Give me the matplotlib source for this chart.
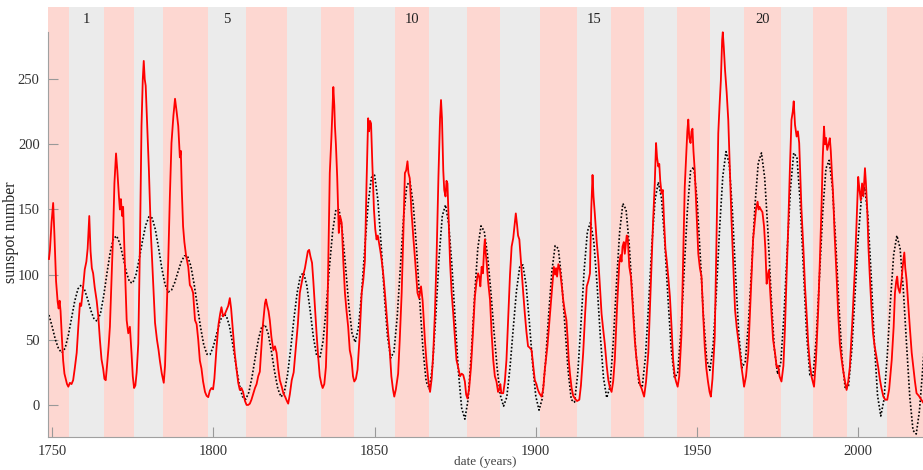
import matplotlib
matplotlib.use("Agg")
import matplotlib.pyplot as plt

# solar cycle minima (band edges)
cycle_edges = [1755.2, 1766.2, 1775.4, 1784.4, 1798.4, 1810.1, 1822.9, 1833.3,
               1843.5, 1856.3, 1866.9, 1878.7, 1888.9, 1901.3, 1912.8, 1923.3,
               1933.5, 1943.9, 1954.0, 1964.6, 1976.2, 1986.0, 1996.4, 2008.8]
cycle_labels = [1, 5, 10, 15, 20]

# smoothed sunspot number (red)
ssn_t = [1749.0, 1749.3, 1749.8, 1750.3, 1750.7, 1751.2, 1751.7, 1752.0, 1752.3, 1752.6,
         1753.0, 1753.4, 1753.8, 1754.2, 1754.6, 1755.0, 1755.5, 1756.0, 1756.5, 1757.0,
         1757.6, 1758.1, 1758.6, 1759.0, 1759.5, 1760.1, 1760.6, 1761.0, 1761.5, 1761.9,
         1762.3, 1762.7, 1763.2, 1763.8, 1764.3, 1764.8, 1765.3, 1765.8, 1766.2, 1766.6,
         1767.0, 1767.5, 1767.9, 1768.4, 1768.9, 1769.3, 1769.8, 1770.2, 1770.7, 1771.0,
         1771.3, 1771.7, 1772.0, 1772.3, 1772.7, 1773.1, 1773.6, 1774.1, 1774.6, 1775.0,
         1775.4, 1775.8, 1776.2, 1776.7, 1777.2, 1777.7, 1778.1, 1778.4, 1778.7, 1779.0,
         1779.3, 1780.0, 1780.6, 1781.2, 1781.9, 1782.5, 1783.0, 1783.4, 1784.0, 1784.6,
         1785.0, 1785.5, 1786.0, 1786.5, 1787.0, 1787.6, 1788.1, 1788.6, 1789.1, 1789.4,
         1789.6, 1789.9, 1790.2, 1790.6, 1791.0, 1791.5, 1792.2, 1792.7, 1793.2, 1793.7,
         1794.3, 1794.8, 1795.3, 1795.8, 1796.3, 1796.8, 1797.4, 1797.9, 1798.4, 1798.9,
         1799.4, 1799.9, 1800.3, 1801.0, 1801.6, 1802.1, 1802.5, 1803.0, 1803.6, 1804.1,
         1804.6, 1805.1, 1805.5, 1806.1, 1806.6, 1807.2, 1807.7, 1808.2, 1808.7, 1809.2,
         1809.8, 1810.3, 1810.8, 1811.3, 1811.8, 1812.3, 1812.9, 1813.4, 1813.9, 1814.4,
         1814.9, 1815.3, 1815.7, 1816.0, 1816.3, 1816.7, 1817.1, 1817.5, 1818.0, 1818.6,
         1819.1, 1819.6, 1820.1, 1820.6, 1821.2, 1821.7, 1822.3, 1822.8, 1823.2, 1823.7,
         1824.3, 1824.9, 1825.6, 1826.2, 1826.8, 1827.4, 1827.9, 1828.4, 1828.9, 1829.3,
         1829.7, 1830.1, 1830.6, 1831.0, 1831.5, 1832.0, 1832.5, 1833.0, 1833.5, 1833.9,
         1834.4, 1834.9, 1835.3, 1835.7, 1836.1, 1836.6, 1837.0, 1837.2, 1837.5, 1837.7,
         1838.0, 1838.4, 1838.9, 1839.3, 1839.8, 1840.3, 1840.8, 1841.3, 1841.8, 1842.3,
         1842.8, 1843.3, 1843.7, 1844.2, 1844.7, 1845.3, 1846.0, 1846.5, 1847.0, 1847.5,
         1848.0, 1848.3, 1848.6, 1848.9, 1849.3, 1849.8, 1850.2, 1850.6, 1851.0, 1851.4,
         1851.8, 1852.2, 1852.7, 1853.2, 1853.7, 1854.2, 1854.7, 1855.2, 1855.7, 1856.1,
         1856.6, 1857.3, 1857.8, 1858.4, 1858.9, 1859.4, 1859.8, 1860.2, 1860.5, 1860.9,
         1861.4, 1862.0, 1862.6, 1863.3, 1863.8, 1864.4, 1864.9, 1865.6, 1866.1, 1866.7,
         1867.2, 1867.7, 1868.2, 1868.7, 1869.2, 1869.8, 1870.3, 1870.6, 1870.9, 1871.3,
         1871.6, 1872.0, 1872.3, 1872.6, 1873.0, 1873.4, 1873.9, 1874.4, 1874.9, 1875.4,
         1876.0, 1876.5, 1877.0, 1877.5, 1878.0, 1878.4, 1878.8, 1879.3, 1879.9, 1880.5,
         1881.1, 1881.6, 1882.1, 1882.5, 1882.8, 1883.2, 1883.6, 1884.0, 1884.2, 1884.4,
         1884.7, 1885.2, 1885.8, 1886.3, 1886.8, 1887.3, 1887.8, 1888.3, 1888.7, 1889.0,
         1889.3, 1889.9, 1890.4, 1890.9, 1891.5, 1892.0, 1892.5, 1893.0, 1893.5, 1893.8,
         1894.2, 1894.5, 1894.9, 1895.5, 1896.1, 1896.6, 1897.1, 1897.6, 1898.1, 1898.7,
         1899.2, 1899.7, 1900.2, 1900.6, 1901.1, 1901.8, 1902.3, 1902.8, 1903.6, 1904.4,
         1905.0, 1905.6, 1906.0, 1906.3, 1906.6, 1907.0, 1907.5, 1907.9, 1908.2, 1908.5,
         1909.0, 1909.5, 1909.9, 1910.2, 1910.6, 1911.1, 1911.6, 1912.1, 1912.8, 1913.5,
         1914.0, 1914.7, 1915.3, 1915.8, 1916.3, 1916.8, 1917.2, 1917.6, 1917.9, 1918.3,
         1918.9, 1919.4, 1919.9, 1920.4, 1920.9, 1921.4, 1922.0, 1922.5, 1923.0, 1923.5,
         1924.0, 1924.5, 1925.2, 1925.9, 1926.3, 1926.6, 1926.9, 1927.3, 1927.6, 1928.2,
         1928.5, 1929.0, 1929.5, 1930.1, 1930.7, 1931.2, 1931.8, 1932.3, 1932.9, 1933.6,
         1934.2, 1934.9, 1935.7, 1936.4, 1936.9, 1937.3, 1937.6, 1938.0, 1938.3, 1938.6,
         1939.0, 1939.4, 1939.8, 1940.2, 1940.6, 1941.1, 1941.6, 1942.1, 1942.6, 1943.1,
         1943.5, 1944.0, 1944.5, 1945.2, 1945.7, 1946.2, 1946.7, 1947.0, 1947.3, 1947.6,
         1948.0, 1948.3, 1948.6, 1948.9, 1949.3, 1949.8, 1950.4, 1950.9, 1951.4, 1951.9,
         1952.4, 1952.9, 1953.4, 1953.9, 1954.3, 1954.8, 1955.5, 1956.0, 1956.6, 1957.0,
         1957.4, 1957.8, 1958.0, 1958.3, 1958.7, 1959.2, 1959.7, 1960.2, 1960.7, 1961.2,
         1961.8, 1962.3, 1962.8, 1963.3, 1963.8, 1964.2, 1964.6, 1965.2, 1965.9, 1966.6,
         1967.4, 1967.9, 1968.3, 1968.8, 1969.1, 1969.4, 1969.8, 1970.3, 1970.8, 1971.2,
         1971.6, 1972.0, 1972.3, 1972.6, 1973.1, 1973.6, 1974.2, 1974.7, 1975.2, 1975.6,
         1976.2, 1976.8, 1977.3, 1977.8, 1978.3, 1978.8, 1979.3, 1979.7, 1980.0, 1980.4,
         1980.9, 1981.3, 1981.7, 1982.0, 1982.4, 1983.0, 1983.5, 1984.0, 1984.5, 1985.0,
         1985.5, 1986.3, 1986.9, 1987.6, 1988.1, 1988.6, 1989.0, 1989.4, 1989.7, 1990.0,
         1990.4, 1990.8, 1991.2, 1991.5, 1991.8, 1992.2, 1992.7, 1993.3, 1993.8, 1994.3,
         1994.8, 1995.3, 1995.9, 1996.4, 1996.9, 1997.4, 1998.2, 1999.0, 1999.5, 2000.0,
         2000.4, 2000.8, 2001.2, 2001.6, 2002.1, 2002.4, 2002.8, 2003.2, 2003.6, 2004.1,
         2004.6, 2005.1, 2005.6, 2006.2, 2006.7, 2007.2, 2007.8, 2008.4, 2009.0, 2009.6,
         2010.4, 2011.0, 2011.4, 2011.8, 2012.1, 2012.4, 2012.9, 2013.4, 2013.8, 2014.3,
         2014.6, 2015.0, 2015.5, 2016.0, 2016.6, 2017.1, 2017.6, 2018.1, 2018.8, 2019.6,
         2020.1]
ssn_v = [112, 119, 140, 155, 130, 95, 79, 74, 80, 72,
         52, 34, 24, 20, 16, 14, 17, 16, 19, 28,
         40, 60, 78, 76, 88, 104, 110, 120, 145, 118,
         105, 101, 90, 80, 68, 50, 35, 28, 20, 19,
         30, 45, 60, 95, 132, 170, 193, 180, 160, 150,
         158, 145, 152, 127, 95, 65, 55, 60, 40, 22,
         13, 15, 25, 47, 120, 214, 250, 264, 250, 245,
         226, 180, 132, 100, 63, 50, 42, 34, 24, 17,
         30, 70, 111, 160, 201, 222, 235, 225, 214, 200,
         190, 195, 165, 137, 125, 115, 106, 92, 90, 86,
         65, 62, 50, 34, 28, 18, 10, 7, 6, 11,
         13, 12, 20, 45, 62, 70, 75, 68, 70, 73,
         76, 82, 74, 55, 40, 27, 17, 11.5, 13, 10,
         3, 0, 0, 1, 4, 8, 13, 16, 22, 25.5,
         45, 60, 70, 78, 81, 76, 72, 65, 52, 42,
         45, 40, 28, 19, 14, 9, 6, 3, 1, 8,
         19, 25, 45, 62, 86, 94, 100, 105, 112, 118,
         119, 114, 109, 95, 75, 55, 37, 22, 16, 13,
         16, 29, 60, 120, 178, 205, 232, 244, 230, 214,
         200, 175, 132, 145, 139.7, 110, 86, 72, 60, 42,
         36, 22, 18, 20, 27, 50, 86, 96, 111, 170,
         220, 210, 218, 216, 185, 150, 135, 127, 130, 124,
         118, 111, 100, 86, 70, 55, 42, 22, 12, 6.4,
         12, 24, 50, 86, 130, 178, 180, 187, 178, 174,
         150, 129, 110, 86, 82, 91, 80, 50, 33, 18,
         10, 20, 40, 70, 111, 175, 220, 234, 220, 180,
         165, 160, 172, 170, 140, 110, 86, 70, 52, 34.5,
         28, 22, 24, 23, 18, 8, 5, 12, 29, 55,
         83, 94, 101, 98, 91, 106, 101, 121, 127, 118,
         111, 95, 80.6, 55, 34.5, 22, 18, 10, 12, 16,
         9, 9, 18, 34.5, 70, 100, 121.5, 128, 140, 147,
         138, 130, 127, 106, 86, 70, 56, 45, 44, 42,
         30, 19, 16, 12, 9, 6.4, 12, 27, 45, 70,
         88, 106, 100, 105, 98.5, 108, 103.6, 95, 88, 80.6,
         72, 65, 50, 35, 24, 13, 7, 5, 3, 4,
         15, 40, 70, 91, 95, 101, 150, 176.5, 160, 147,
         125, 111, 90, 70, 58, 47, 30, 19, 13, 10,
         18, 34.5, 75, 109, 115, 110, 121.5, 125, 116, 130,
         129, 106, 98.5, 75, 50, 36, 24, 16, 12, 6.4,
         18, 40, 95, 142, 170, 201, 190, 183, 185, 172,
         162.5, 165, 140, 120, 111, 98, 83, 60, 34.5, 22,
         18, 14, 22, 55, 110, 167.5, 195, 210, 219, 205,
         201, 210, 212, 195, 180, 150, 116, 105, 98.5, 70,
         45, 28, 18, 10, 6.4, 20, 52, 120, 208.5, 230,
         249, 280, 286, 275, 257, 240, 218.7, 180, 142, 110,
         73, 60, 50, 40, 29, 22, 14, 22, 40, 80,
         127, 140, 150, 156, 150, 152, 150, 148, 137, 120,
         93, 100, 103.6, 91, 70, 50, 40, 29, 30, 22,
         18, 30, 60, 100, 137, 180, 218.7, 225, 233, 215,
         206, 210, 201, 180, 150, 120, 91, 70, 47, 32,
         22, 14, 35, 73, 110, 150, 190, 213.6, 200, 205,
         195.7, 200, 204.7, 195, 180, 162.5, 130, 98.5, 70, 47,
         36, 27, 18, 11.5, 18, 29, 65, 106, 140, 175,
         165, 157, 170, 160, 181.7, 170, 150, 120, 98.5, 75,
         55, 45, 38, 29, 20, 13, 6.4, 4, 4, 12,
         34.5, 60, 86, 95, 98.5, 90, 86, 95, 106, 117,
         105, 96, 78, 60, 40, 29, 18, 9, 7, 4,
         2]

# model curve (black dotted), yearly values
model_t = list(range(1749, 2022))
model_v = [69, 60, 50, 43, 40, 43.5, 53.4, 66.7, 79.8, 89.1,
           92, 88.7, 81.1, 72.4, 65.8, 64.2, 70.5, 84.1, 101.4, 117.2,
           127.7, 129.7, 123.9, 113.3, 101.9, 94.3, 93.6, 100.1, 112.1, 125.9,
           137.9, 144.4, 143.5, 134.6, 120.5, 104.9, 92.5, 86.7, 88.1, 93.9,
           102, 109.7, 114.4, 114.1, 106.7, 93.1, 76.5, 59.9, 46.3, 38.9,
           38.8, 45, 54.5, 64, 69.5, 68.6, 60.4, 46.6, 30.5, 16,
           6.5, 4.2, 9.7, 21.7, 36.8, 50.7, 60, 61.6, 54.7, 41.1,
           25.3, 12.3, 6.2, 9.6, 23.3, 43.6, 66.6, 86.4, 99.3, 101.4,
           91.4, 72.7, 52.3, 38.2, 35.8, 48.8, 74.8, 106.1, 133.4, 149.9,
           149.8, 133.1, 106, 76.5, 55, 48.1, 59.6, 86.7, 122, 154.3,
           174.5, 176.3, 157.7, 124.1, 85.2, 52.7, 36, 40.8, 67.3, 105.9,
           144.2, 168.7, 171.4, 153.6, 120.5, 80.1, 42.8, 18, 12.1, 30.9,
           69.4, 113.1, 145.2, 153.5, 138.8, 106.3, 65.1, 25.5, -2.3, -10.9,
           4.2, 39.5, 83, 120, 137.4, 133.4, 115.6, 88.7, 57.4, 28.5,
           7.5, -1, 6, 28.7, 58.6, 87.4, 105.8, 107.5, 91.8, 63.8,
           31.9, 6.7, -4, 4.8, 32.5, 69.5, 102.9, 122.2, 120, 96.5,
           62, 27, 4.1, 2.1, 23.7, 62, 103.4, 133, 140.5, 125.2,
           92.6, 53.4, 20.8, 5.5, 13.9, 47, 92.1, 132.6, 154.6, 149.9,
           122.2, 81.7, 41.7, 16, 13.6, 36.7, 77.4, 123.2, 157.6, 171,
           158.5, 125.2, 81.8, 43.2, 21, 24.3, 55.9, 102, 148.8, 179.5,
           182.6, 158.3, 115, 68.4, 35.1, 26.6, 45.6, 86.2, 134.8, 175.4,
           194.4, 185.1, 148.3, 98.1, 53, 28.5, 33.5, 64.2, 108.2, 153.8,
           185.7, 193.4, 174.2, 133.1, 83.9, 42.8, 23.6, 32.9, 70, 119.9,
           166.4, 193.4, 190, 155.8, 104.7, 54.4, 23.2, 22.7, 51.6, 98.9,
           148, 181.5, 187.7, 167.2, 126.2, 77.5, 35.6, 12.1, 14.7, 41.8,
           84, 128.1, 159.1, 167.1, 145.5, 100.6, 48.3, 7.3, -8.5, 4.1,
           37.5, 79.6, 115.3, 130, 120.1, 88.4, 46.5, 6.2, -19.5, -22.3,
           -4.5, 27.2, 63.3]

plt.rcParams['font.family'] = ['Liberation Serif', 'DejaVu Serif']

fig = plt.figure(figsize=(9.23, 4.70), dpi=100)
ax = fig.add_axes([48 / 923, 33 / 470, 875 / 923, 430 / 470])

x0, x1 = 1748.7, 2020.1
y0, y1 = -24.6, 305.4

# alternating cycle bands
edges = [x0] + cycle_edges + [x1]
for i in range(len(edges) - 1):
    col = '#fdd7d1' if i % 2 == 0 else '#ebebeb'
    ax.axvspan(edges[i], edges[i + 1], color=col, lw=0, zorder=0)
for c in cycle_labels:
    ax.text((edges[c] + edges[c + 1]) / 2, 296, str(c), ha='center', va='center',
            fontsize=10.5, color='#222222')

ax.plot(model_t, model_v, color='black', ls=(0, (1, 1.2)), lw=1.2, zorder=2)
ax.plot(ssn_t, ssn_v, color='#ff0000', lw=1.3, zorder=3)

ax.set_xlim(x0, x1)
ax.set_ylim(y0, y1)
ax.set_xticks([1750, 1800, 1850, 1900, 1950, 2000])
ax.set_yticks([0, 50, 100, 150, 200, 250])
ax.tick_params(direction='in', length=7, width=0.8, color='#999999',
               labelsize=10.5, labelcolor='#333333', pad=6)

for s in ['top', 'right']:
    ax.spines[s].set_visible(False)
ax.spines['left'].set_bounds(y0, 286)
ax.spines['left'].set_color('#a0a0a0')
ax.spines['bottom'].set_color('#a0a0a0')
ax.spines['left'].set_linewidth(0.8)
ax.spines['bottom'].set_linewidth(0.8)

ax.set_ylabel('sunspot number', fontsize=11.5, color='#222222')
ax.yaxis.set_label_coords(-0.033, 0.477)
ax.set_xlabel('date (years)', fontsize=9.5, color='#444444')
ax.xaxis.set_label_coords(0.5, -0.044)

fig.savefig('out.png', dpi=100)
